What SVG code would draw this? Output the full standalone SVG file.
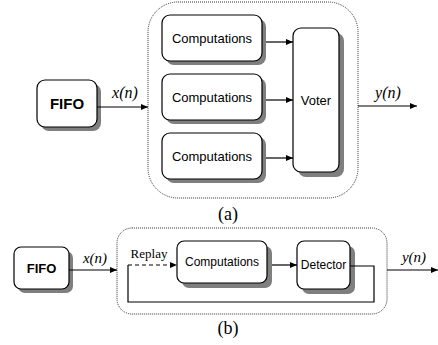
<svg xmlns="http://www.w3.org/2000/svg" width="438" height="345" viewBox="0 0 438 345">
<style>
.box{fill:#fff;stroke:#000;stroke-width:1.2}
.sh{fill:#7f7f7f}
.frame{fill:none;stroke:#333;stroke-width:1;stroke-dasharray:1 1}
.ln{fill:none;stroke:#000;stroke-width:1.2}
.sans{font-family:"Liberation Sans",Arial,sans-serif;fill:#000}
.ser{font-family:"Liberation Serif","Times New Roman",serif;fill:#000}
.it{font-style:italic}
</style>
<defs>
<marker id="ah" markerWidth="8" markerHeight="6" refX="7" refY="3" orient="auto" markerUnits="userSpaceOnUse">
<path d="M0,0 L7,3 L0,6 Z" fill="#000"/>
</marker>
</defs>

<!-- (a) -->
<rect class="frame" x="148" y="2" width="210" height="196" rx="30"/>
<g id="fifo-a">
<rect class="sh" x="41" y="84" width="60" height="47" rx="8"/>
<rect class="box" x="37" y="80" width="60" height="47" rx="8"/>
<text class="sans" x="67" y="109" font-size="15" font-weight="bold" text-anchor="middle">FIFO</text>
</g>
<g id="comp-a1">
<rect class="sh" x="166" y="19" width="100" height="46" rx="8"/>
<rect class="box" x="162" y="15" width="100" height="46" rx="8"/>
<text class="sans" x="212" y="43" font-size="13" text-anchor="middle">Computations</text>
</g>
<g id="comp-a2">
<rect class="sh" x="166" y="78" width="100" height="46" rx="8"/>
<rect class="box" x="162" y="74" width="100" height="46" rx="8"/>
<text class="sans" x="212" y="102" font-size="13" text-anchor="middle">Computations</text>
</g>
<g id="comp-a3">
<rect class="sh" x="166" y="137" width="100" height="46" rx="8"/>
<rect class="box" x="162" y="133" width="100" height="46" rx="8"/>
<text class="sans" x="212" y="161" font-size="13" text-anchor="middle">Computations</text>
</g>
<g id="voter">
<rect class="sh" x="298" y="33" width="46" height="144" rx="8"/>
<rect class="box" x="293" y="28" width="46" height="144" rx="8"/>
<text class="sans" x="316" y="105" font-size="13" text-anchor="middle">Voter</text>
</g>
<text class="ser it" x="125" y="98" font-size="16" text-anchor="middle">x(n)</text>
<text class="ser it" x="388" y="98" font-size="16" text-anchor="middle">y(n)</text>
<text class="ser" x="228" y="220" font-size="18" text-anchor="middle">(a)</text>

<!-- (b) -->
<rect class="frame" x="117" y="228" width="270" height="86" rx="15"/>
<g id="fifo-b">
<rect class="sh" x="18" y="251" width="55" height="42" rx="7"/>
<rect class="box" x="14" y="247" width="55" height="42" rx="7"/>
<text class="sans" x="41.5" y="273" font-size="13" font-weight="bold" text-anchor="middle">FIFO</text>
</g>
<g id="comp-b">
<rect class="sh" x="182" y="246" width="90" height="42" rx="7"/>
<rect class="box" x="177" y="241" width="90" height="42" rx="7"/>
<text class="sans" x="222" y="266" font-size="12" text-anchor="middle">Computations</text>
</g>
<g id="detector">
<rect class="sh" x="302" y="246" width="53" height="48" rx="7"/>
<rect class="box" x="297" y="241" width="53" height="48" rx="7"/>
<text class="sans" x="323.5" y="269" font-size="12" text-anchor="middle">Detector</text>
</g>
<text class="ser it" x="95" y="263" font-size="15" text-anchor="middle">x(n)</text>
<text class="ser it" x="414" y="262" font-size="15" text-anchor="middle">y(n)</text>
<text class="ser" x="149" y="258" font-size="13" text-anchor="middle">Replay</text>
<text class="ser" x="228" y="334" font-size="18" text-anchor="middle">(b)</text>

<g id="connectors">
<line class="ln" x1="97" y1="107" x2="148" y2="107" marker-end="url(#ah)"/>
<line class="ln" x1="266" y1="42" x2="293" y2="42" marker-end="url(#ah)"/>
<line class="ln" x1="266" y1="100" x2="293" y2="100" marker-end="url(#ah)"/>
<line class="ln" x1="266" y1="158" x2="293" y2="158" marker-end="url(#ah)"/>
<line class="ln" x1="358" y1="106" x2="417" y2="106" marker-end="url(#ah)"/>
<line class="ln" x1="69" y1="270" x2="117" y2="270" marker-end="url(#ah)"/>
<line class="ln" x1="272" y1="265" x2="297" y2="265" marker-end="url(#ah)"/>
<polyline class="ln" points="350,266 374,266 374,302 128,302 128,265"/>
<line class="ln" x1="128" y1="265" x2="177" y2="265" stroke-dasharray="4 3" marker-end="url(#ah)"/>
<line class="ln" x1="387" y1="270" x2="438" y2="270" marker-end="url(#ah)"/>
</g>
</svg>
